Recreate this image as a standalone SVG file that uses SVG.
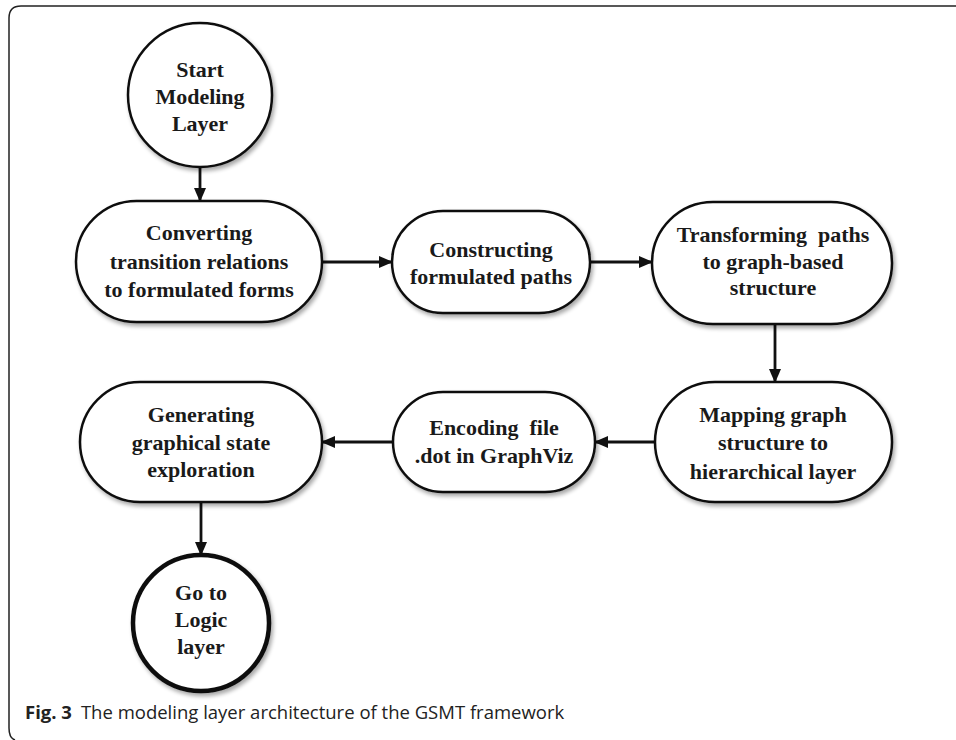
<svg xmlns="http://www.w3.org/2000/svg" width="956" height="740" viewBox="0 0 956 740">
<defs>
<style>
.node{fill:#fff;stroke:#111;stroke-width:2.5;filter:url(#sh)}
.thick{stroke-width:4.5}
.lbl{font-family:"Liberation Serif","Times New Roman",serif;font-weight:bold;font-size:22px;fill:#1a1a1a;text-anchor:middle;white-space:pre}
.edge{stroke:#111;stroke-width:2.8;fill:none;marker-end:url(#ah)}
.cap{font-family:"Open Sans","Noto Sans",sans-serif;font-size:18.5px;fill:#222}
</style>
<marker id="ah" viewBox="0 0 14 12" refX="13" refY="6" markerWidth="14" markerHeight="12" markerUnits="userSpaceOnUse" orient="auto">
<path d="M0,0 L14,6 L0,12 Z" fill="#111"/>
</marker>
<filter id="sh" x="-10%" y="-10%" width="125%" height="130%">
<feGaussianBlur in="SourceAlpha" stdDeviation="2"/>
<feOffset dx="2" dy="3"/>
<feComponentTransfer><feFuncA type="linear" slope="0.35"/></feComponentTransfer>
<feMerge><feMergeNode/><feMergeNode in="SourceGraphic"/></feMerge>
</filter>
</defs>
<rect width="956" height="740" fill="#fff"/>
<path d="M956,6 H21 Q9,6 9,18 V728 Q9,738 15,740" fill="none" stroke="#222" stroke-width="1.5"/>

<g id="connectors">
<line class="edge" x1="200" y1="167" x2="200" y2="201"/>
<line class="edge" x1="322" y1="262" x2="392" y2="262"/>
<line class="edge" x1="590" y1="262" x2="652" y2="262"/>
<line class="edge" x1="775" y1="324" x2="775" y2="382"/>
<line class="edge" x1="655" y1="442" x2="595" y2="442"/>
<line class="edge" x1="393" y1="442" x2="322" y2="442"/>
<line class="edge" x1="201" y1="502" x2="201" y2="555"/>
</g>

<g id="start">
<circle class="node" cx="200" cy="95" r="72"/>
<text class="lbl"><tspan x="200" y="77">Start</tspan><tspan x="200" y="104">Modeling</tspan><tspan x="200" y="131">Layer</tspan></text>
</g>
<g id="converting">
<rect class="node" x="76" y="201" width="246" height="121" rx="60.5"/>
<text class="lbl"><tspan x="199" y="240">Converting</tspan><tspan x="199" y="269">transition relations</tspan><tspan x="199" y="297">to formulated forms</tspan></text>
</g>
<g id="constructing">
<rect class="node" x="392" y="211" width="198" height="102" rx="51"/>
<text class="lbl"><tspan x="491" y="257">Constructing</tspan><tspan x="491" y="284">formulated paths</tspan></text>
</g>
<g id="transforming">
<rect class="node" x="652" y="202" width="240" height="122" rx="61"/>
<text class="lbl"><tspan x="773" y="242">Transforming  paths</tspan><tspan x="773" y="269">to graph-based</tspan><tspan x="773" y="295">structure</tspan></text>
</g>
<g id="mapping">
<rect class="node" x="655" y="382" width="237" height="120" rx="60"/>
<text class="lbl"><tspan x="773" y="422">Mapping graph</tspan><tspan x="773" y="450">structure to</tspan><tspan x="773" y="479">hierarchical layer</tspan></text>
</g>
<g id="encoding">
<rect class="node" x="393" y="392" width="202" height="100" rx="50"/>
<text class="lbl"><tspan x="494" y="435">Encoding  file</tspan><tspan x="494" y="463">.dot in GraphViz</tspan></text>
</g>
<g id="generating">
<rect class="node" x="80" y="382" width="242" height="120" rx="60"/>
<text class="lbl"><tspan x="201" y="422">Generating</tspan><tspan x="201" y="450">graphical state</tspan><tspan x="201" y="477">exploration</tspan></text>
</g>
<g id="goto">
<circle class="node thick" cx="201" cy="623" r="68"/>
<text class="lbl"><tspan x="201" y="600">Go to</tspan><tspan x="201" y="627">Logic</tspan><tspan x="201" y="654">layer</tspan></text>
</g>

<text class="cap" x="25" y="719"><tspan font-weight="bold">Fig. 3</tspan><tspan dx="9">The modeling layer architecture of the GSMT framework</tspan></text>
</svg>
